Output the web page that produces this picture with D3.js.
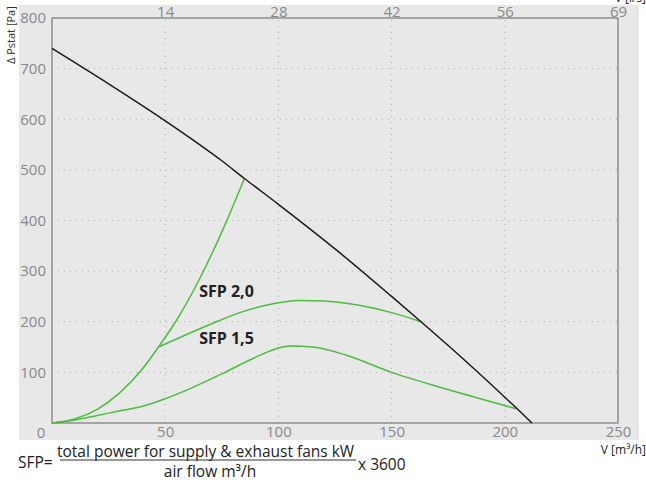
<!DOCTYPE html>
<html><head><meta charset="utf-8">
<script src="https://cdn.jsdelivr.net/npm/d3@7"></script>
<style>
html,body{margin:0;padding:0;background:#fff;}
svg{display:block;font-family:"Open Sans",sans-serif;}
</style></head><body>
<script>
// Data (air flow m³/h, static pressure Pa)
const xTicks = [0, 50, 100, 150, 200, 250];
const xTopLabels = ["14", "28", "42", "56", "69"];
const yTicks = [0, 100, 200, 300, 400, 500, 600, 700, 800];
const fanQ = [0, 25, 50, 75, 85, 100, 125, 150, 163, 175, 200, 205, 212];
const fanP = [740, 670, 597, 518, 483, 432, 344, 250, 200, 153, 51, 30, 0];
const sysQ = [0, 10, 20, 30, 40, 47, 55, 65, 75, 85];
const sysP = [0, 8, 27, 60, 107, 150, 203, 283, 377, 483];
const sfp20Q = [47, 56, 70, 83, 95, 109, 120, 135, 150, 163];
const sfp20P = [150, 168, 195, 218, 233, 242, 241, 233, 218, 200];
const sfp15Q = [0, 10, 20, 30, 40, 50, 60, 75, 90, 100, 105, 115, 130, 150, 175, 205];
const sfp15P = [0, 6, 15, 24, 33, 48, 66, 97, 130, 148, 152, 150, 134, 100, 66, 28];
const labels = [{t: "SFP 2,0", q: 65, p: 249}, {t: "SFP 1,5", q: 65, p: 156}];

const W = 646, H = 482;
const svg = d3.select("body").append("svg").attr("width", W).attr("height", H);
svg.append("rect").attr("x", 19).attr("y", 5).attr("width", 620).attr("height", 435).attr("fill", "#e8e8e8");

const x = d3.scaleLinear().domain([0, 250]).range([52, 618]);
const y = d3.scaleLinear().domain([0, 800]).range([423, 18]);

// grid
const g = svg.append("g");
g.selectAll(".vg").data(xTicks.slice(1, -1)).join("line")
  .attr("x1", d => x(d)).attr("x2", d => x(d)).attr("y1", y(0)).attr("y2", y(800))
  .attr("stroke", "#aaa").attr("stroke-width", 1).attr("stroke-dasharray", "1,5");
g.selectAll(".hg").data(yTicks.slice(1, -1)).join("line")
  .attr("y1", d => y(d)).attr("y2", d => y(d)).attr("x1", x(0)).attr("x2", x(250))
  .attr("stroke", "#aaa").attr("stroke-width", 1).attr("stroke-dasharray", "1,5");

// frame
svg.append("rect").attr("x", x(0)).attr("y", y(800)).attr("width", x(250) - x(0)).attr("height", y(0) - y(800))
  .attr("fill", "none").attr("stroke", "#777").attr("stroke-width", 1.2);

// axes via d3 axis
const bottom = svg.append("g").attr("transform", `translate(0,${y(0)})`)
  .call(d3.axisBottom(x).tickValues(xTicks.slice(1)).tickSize(0).tickPadding(3));
const left = svg.append("g").attr("transform", `translate(${x(0)},0)`)
  .call(d3.axisLeft(y).tickValues(yTicks.slice(1)).tickSize(0).tickPadding(6));
const topScale = d3.scalePoint().domain(xTopLabels).range([x(50), x(250)]);
const topAx = svg.append("g").attr("transform", `translate(0,${y(800)})`)
  .call(d3.axisTop(topScale).tickSize(0).tickPadding(1));
[bottom, left, topAx].forEach(a => {
  a.select(".domain").remove();
  a.selectAll("text").attr("fill", "#888").style("font-size", "15px").style("font-family", "'Open Sans',sans-serif");
});
svg.append("text").attr("x", 41).attr("y", 438).attr("text-anchor", "middle")
  .attr("fill", "#888").style("font-size", "15px").text(yTicks[0]);

// curves
const line = d3.line().x(d => x(d[0])).y(d => y(d[1])).curve(d3.curveMonotoneX);
const zip = (a, b) => a.map((v, i) => [v, b[i]]);
svg.append("path").attr("d", line(zip(sysQ, sysP))).attr("fill", "none").attr("stroke", "#4cbb3f").attr("stroke-width", 1.5);
svg.append("path").attr("d", line(zip(sfp20Q, sfp20P))).attr("fill", "none").attr("stroke", "#4cbb3f").attr("stroke-width", 1.5);
svg.append("path").attr("d", line(zip(sfp15Q, sfp15P))).attr("fill", "none").attr("stroke", "#4cbb3f").attr("stroke-width", 1.5);
svg.append("path").attr("d", line(zip(fanQ, fanP))).attr("fill", "none").attr("stroke", "#1a1a1a").attr("stroke-width", 1.5);

svg.selectAll(".lbl").data(labels).join("text")
  .attr("x", d => x(d.q)).attr("y", d => y(d.p)).attr("fill", "#222")
  .style("font-size", "16px").style("font-weight", "bold").text(d => d.t);

// axis titles
svg.append("text").attr("transform", "translate(15,64) rotate(-90)").attr("fill", "#333")
  .style("font-size", "11px").text("Δ Pstat [Pa]");
svg.append("text").attr("x", 646).attr("y", 454).attr("text-anchor", "end").attr("fill", "#222")
  .style("font-size", "12px").text("V [m³/h]");
svg.append("text").attr("x", 646).attr("y", 2).attr("text-anchor", "end").attr("fill", "#222")
  .style("font-size", "12px").text("V [l/s]");

// formula
svg.append("text").attr("x", 18).attr("y", 468).attr("fill", "#222").style("font-size", "15.5px").text("SFP=");
svg.append("text").attr("x", 57).attr("y", 457).attr("fill", "#222").style("font-size", "15.5px").text("total power for supply & exhaust fans kW");
svg.append("line").attr("x1", 60).attr("x2", 356).attr("y1", 460).attr("y2", 460).attr("stroke", "#333").attr("stroke-width", 1);
svg.append("text").attr("x", 210).attr("y", 477).attr("text-anchor", "middle").attr("fill", "#222").style("font-size", "15.5px").text("air flow m³/h");
svg.append("text").attr("x", 358).attr("y", 470).attr("fill", "#222").style("font-size", "15.5px").text("x 3600");
</script>
</body></html>
